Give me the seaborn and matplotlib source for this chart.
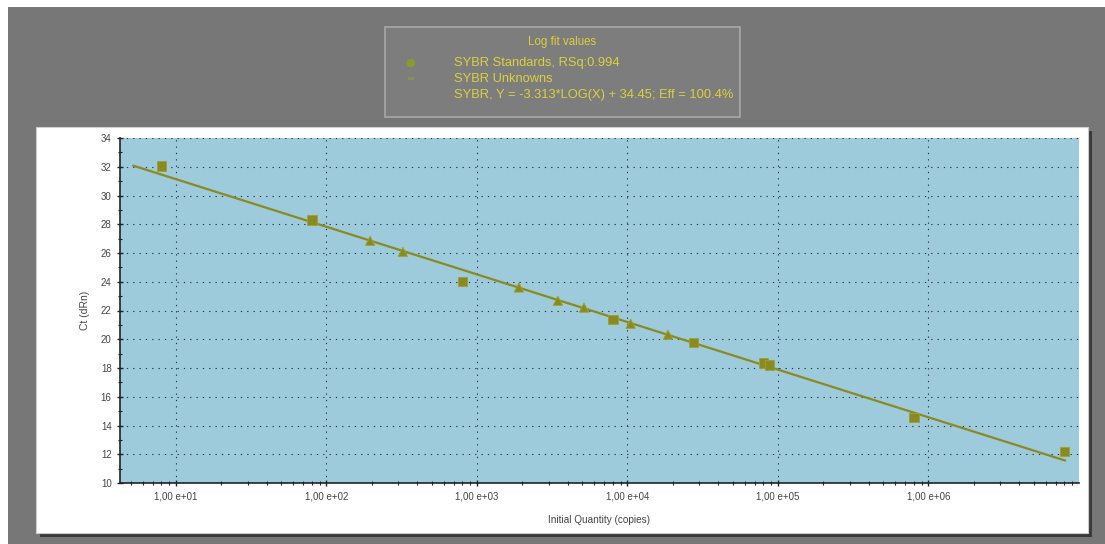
import numpy as np
import pandas as pd
import matplotlib
matplotlib.use("Agg")
import matplotlib.pyplot as plt
import matplotlib.ticker as mticker
from matplotlib.patches import Rectangle
import seaborn as sns

# ---- data ----
std_qty = [8, 80, 800, 8000, 27500, 80000, 88000, 800000, 8000000]
std_ct = [32.05, 28.3, 24.0, 21.36, 19.76, 18.35, 18.2, 14.56, 12.2]
unk_qty = [195, 322, 1900, 3450, 5140, 10500, 18600]
unk_ct = [26.85, 26.08, 23.6, 22.68, 22.2, 21.08, 20.32]
fit_slope = -3.313
fit_intercept = 34.45
fit_x = [5.2, 8.1e6]

legend_title = "Log fit values"
legend_labels = ["SYBR Standards, RSq:0.994",
                 "SYBR Unknowns",
                 "SYBR, Y = -3.313*LOG(X) + 34.45; Eff = 100.4%"]

pts = pd.DataFrame({
    "qty": std_qty + unk_qty,
    "ct": std_ct + unk_ct,
    "kind": ["Standard"] * len(std_qty) + ["Unknown"] * len(unk_qty),
})
fit = pd.DataFrame({"qty": fit_x,
                    "ct": [fit_slope * np.log10(v) + fit_intercept for v in fit_x]})

olive = "#8a8a22"
plot_bg = "#9ecbdb"
fig_gray = "#777777"
yellow = "#d9d23a"

sns.set_theme(style="white")
plt.rcParams['font.family'] = ['Liberation Sans', 'DejaVu Sans']

fig = plt.figure(figsize=(11.05, 5.44), dpi=100)
fig.patch.set_facecolor("white")

# gray backdrop and white chart panel with shadow
fig.patches.append(Rectangle((8 / 1105, 0), 1 - 8 / 1105, 1 - 7 / 544, transform=fig.transFigure,
                             facecolor=fig_gray, edgecolor="none", zorder=-3))
fig.patches.append(Rectangle((40 / 1105, 7 / 544), 1052 / 1105, 406 / 544, transform=fig.transFigure,
                             facecolor="#3a3a3a", edgecolor="none", zorder=-2))
fig.patches.append(Rectangle((36 / 1105, 11 / 544), 1052 / 1105, 406 / 544, transform=fig.transFigure,
                             facecolor="white", edgecolor="#cccccc", lw=0.8, zorder=-1))

# legend box
fig.patches.append(Rectangle((385 / 1105, 1 - 117 / 544), 355 / 1105, 90 / 544, transform=fig.transFigure,
                             facecolor="#7d7d7d", edgecolor="#a8a8a8", lw=1.2, zorder=0))
fig.text(562 / 1105, 1 - 42 / 544, legend_title, color=yellow, fontsize=8.3, ha="center", va="center")
row_y = [63, 79, 95]
for lab, yy in zip(legend_labels, row_y):
    fig.text(454 / 1105, 1 - yy / 544, lab, color=yellow, fontsize=9.3, ha="left", va="center")
fig.text(410 / 1105, 1 - row_y[0] / 544, "●", color="#8c9a2a", fontsize=8, ha="center", va="center",
         family="DejaVu Sans")
fig.text(410 / 1105, 1 - row_y[1] / 544, "▬", color="#8a8f55", fontsize=6, ha="center", va="center",
         family="DejaVu Sans")

ax = fig.add_axes([120 / 1105, 1 - 483 / 544, 959 / 1105, 345 / 544])
ax.set_facecolor(plot_bg)

sns.lineplot(data=fit, x="qty", y="ct", ax=ax, color=olive, lw=1.6, zorder=3)
sns.scatterplot(data=pts, x="qty", y="ct", style="kind", markers={"Standard": "s", "Unknown": "^"},
                color=olive, edgecolor="#a0a030", linewidth=0.6, s=45, ax=ax, legend=False, zorder=4)

ax.set_xscale("log")
ax.set_xlim(4.25, 1.0e7)
ax.set_ylim(10, 34)
ax.yaxis.set_major_locator(mticker.MultipleLocator(2))
ax.yaxis.set_minor_locator(mticker.MultipleLocator(1))
ax.xaxis.set_minor_locator(mticker.LogLocator(base=10, subs=np.arange(2, 10), numticks=20))
ax.xaxis.set_minor_formatter(mticker.NullFormatter())
ax.xaxis.set_major_formatter(mticker.FuncFormatter(lambda v, p: "1,00 e+%02d" % int(round(np.log10(v)))))
ax.set_xticks([1e1, 1e2, 1e3, 1e4, 1e5, 1e6])

ax.grid(True, which="major", color="#2a3a44", ls=(0, (1.2, 4.5)), lw=0.8)
ax.tick_params(which="major", direction="inout", length=5, width=1, colors="#222222",
               labelsize=7, labelcolor="#444444")
ax.tick_params(which="minor", direction="inout", length=3, width=0.8, colors="#222222")
ax.tick_params(axis="both", which="both", bottom=True, left=True)

for side in ["top", "right"]:
    ax.spines[side].set_visible(False)
for side in ["left", "bottom"]:
    ax.spines[side].set_color("#222222")
    ax.spines[side].set_linewidth(1.2)

ax.set_xlabel("Initial Quantity (copies)", fontsize=7.2, color="#444444", labelpad=10)
ax.set_ylabel("Ct (dRn)", fontsize=7.5, color="#444444", labelpad=8)

fig.savefig("out.png", dpi=100, facecolor=fig.get_facecolor())
